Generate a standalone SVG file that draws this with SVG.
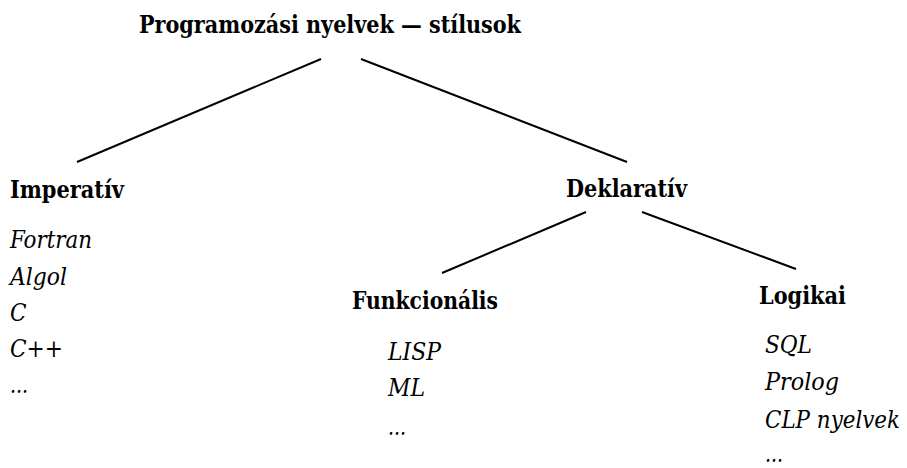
<svg xmlns="http://www.w3.org/2000/svg" width="907" height="468" viewBox="0 0 907 468">
<style>
text{font-family:'DejaVu Serif Condensed','DejaVu Serif',serif;font-size:24px;fill:#000}
.h{font-weight:bold}
.i{font-style:italic}
.c{stroke:#000;stroke-width:2;fill:none}
</style>
<rect width="907" height="468" fill="#fff"/>
<g id="connectors">
<line class="c" x1="321" y1="59" x2="77" y2="162"/>
<line class="c" x1="361" y1="59" x2="627" y2="162"/>
<line class="c" x1="586" y1="212" x2="442" y2="273"/>
<line class="c" x1="642" y1="212" x2="796" y2="269"/>
</g>
<g id="root"><text class="h" x="139" y="33" textLength="382" lengthAdjust="spacingAndGlyphs">Programozási nyelvek — stílusok</text></g>
<g id="imperativ">
<text class="h" x="10" y="198" textLength="114" lengthAdjust="spacingAndGlyphs">Imperatív</text>
<text class="i" x="10" y="248" textLength="82" lengthAdjust="spacingAndGlyphs">Fortran</text>
<text class="i" x="10" y="285" textLength="57" lengthAdjust="spacingAndGlyphs">Algol</text>
<text class="i" x="10" y="321">C</text>
<text class="i" x="10" y="357" textLength="53" lengthAdjust="spacingAndGlyphs">C++</text>
<text class="i" x="10" y="393" textLength="18" lengthAdjust="spacingAndGlyphs">...</text>
</g>
<g id="deklarativ"><text class="h" x="566" y="197" textLength="121" lengthAdjust="spacingAndGlyphs">Deklaratív</text></g>
<g id="funkcionalis">
<text class="h" x="352" y="309" textLength="146" lengthAdjust="spacingAndGlyphs">Funkcionális</text>
<text class="i" x="388" y="360" textLength="53" lengthAdjust="spacingAndGlyphs">LISP</text>
<text class="i" x="388" y="396" textLength="37" lengthAdjust="spacingAndGlyphs">ML</text>
<text class="i" x="388" y="435" textLength="18" lengthAdjust="spacingAndGlyphs">...</text>
</g>
<g id="logikai">
<text class="h" x="759" y="304" textLength="87" lengthAdjust="spacingAndGlyphs">Logikai</text>
<text class="i" x="765" y="353" textLength="47" lengthAdjust="spacingAndGlyphs">SQL</text>
<text class="i" x="765" y="390" textLength="74" lengthAdjust="spacingAndGlyphs">Prolog</text>
<text class="i" x="765" y="428" textLength="135" lengthAdjust="spacingAndGlyphs">CLP nyelvek</text>
<text class="i" x="765" y="462" textLength="18" lengthAdjust="spacingAndGlyphs">...</text>
</g>
</svg>
